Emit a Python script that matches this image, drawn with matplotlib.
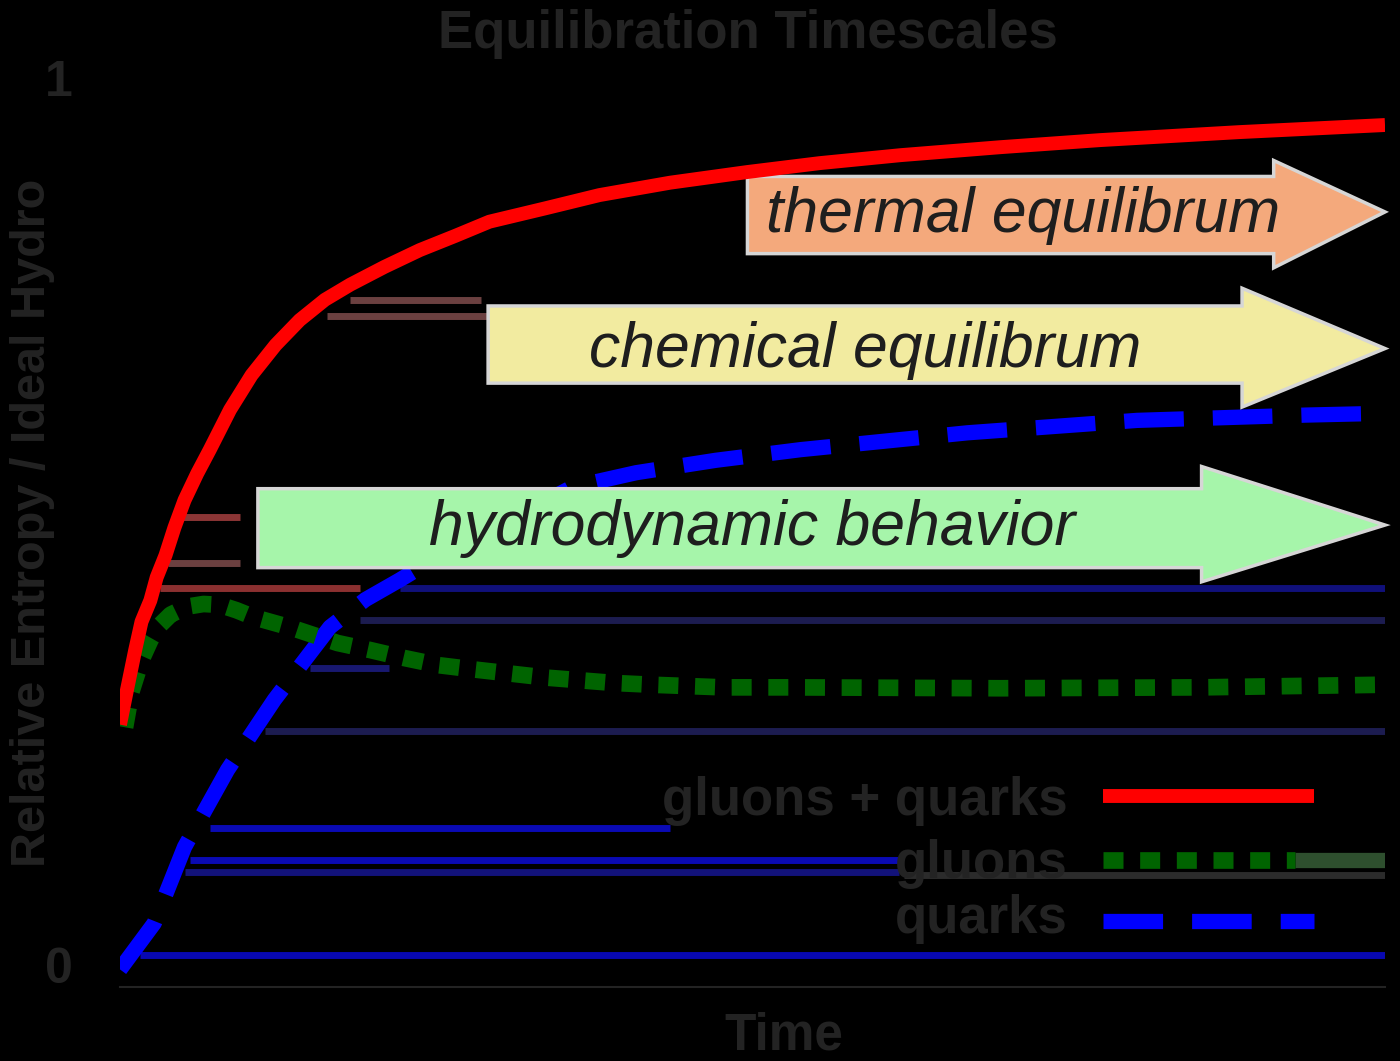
import matplotlib
matplotlib.use('Agg')
import matplotlib.pyplot as plt
from matplotlib.patches import Polygon

plt.rcParams['font.family'] = ['Liberation Sans', 'DejaVu Sans']

W, H = 1400, 1061
TEXT_C = '#232323'

# curves (time normalised to 0..1, value relative to 1)
t_all = [0.000, 0.0055, 0.012, 0.017, 0.024, 0.029, 0.036, 0.043, 0.051, 0.061,
         0.071, 0.087, 0.104, 0.123, 0.142, 0.162, 0.182, 0.209, 0.237, 0.265,
         0.292, 0.336, 0.379, 0.435, 0.496, 0.553, 0.617, 0.696, 0.775, 0.885, 1.000]
y_all = [0.271, 0.310, 0.355, 0.387, 0.411, 0.437, 0.462, 0.493, 0.524, 0.554,
         0.581, 0.626, 0.665, 0.699, 0.727, 0.750, 0.767, 0.787, 0.806, 0.822,
         0.838, 0.853, 0.868, 0.882, 0.894, 0.904, 0.913, 0.922, 0.930, 0.939, 0.947]

t_gluon = [0.004, 0.009, 0.017, 0.024, 0.030, 0.040, 0.053, 0.066, 0.079, 0.092,
           0.106, 0.136, 0.172, 0.198, 0.225, 0.252, 0.281, 0.337, 0.390, 0.420,
           0.477, 0.530, 0.696, 0.854, 1.000]
y_gluon = [0.268, 0.308, 0.344, 0.366, 0.381, 0.395, 0.404, 0.407, 0.406, 0.400,
           0.392, 0.380, 0.363, 0.355, 0.346, 0.338, 0.333, 0.324, 0.318, 0.316,
           0.313, 0.313, 0.312, 0.313, 0.316]

t_quark = [0.000, 0.027, 0.051, 0.085, 0.122, 0.166, 0.194, 0.221, 0.243, 0.300,
           0.358, 0.408, 0.471, 0.538, 0.670, 0.804, 0.938, 1.000]
y_quark = [-0.005, 0.047, 0.133, 0.220, 0.299, 0.381, 0.412, 0.434, 0.453, 0.496,
           0.539, 0.555, 0.569, 0.581, 0.600, 0.614, 0.620, 0.622]

# stray horizontal strokes visible in the picture
stray_y = [0.750, 0.732, 0.505, 0.453, 0.425, 0.425, 0.389, 0.335, 0.264,
           0.154, 0.118, 0.105, 0.011, 0.101]
stray_x0 = [0.182, 0.164, 0.047, 0.038, 0.032, 0.221, 0.190, 0.150, 0.115,
            0.071, 0.055, 0.051, 0.016, 0.620]
stray_x1 = [0.285, 0.291, 0.095, 0.095, 0.190, 1.000, 1.000, 0.213, 1.000,
            0.435, 0.616, 0.616, 1.000, 1.000]
stray_c = ['#6b4040', '#6b4040', '#8b3535', '#6b4040', '#8b3030', '#10107a',
           '#1c1c50', '#181870', '#1c1c50', '#0a0ab4', '#0a0ab4', '#12127a',
           '#0808b0', '#2b2b2b']

# regime arrows: label, colour, body x0, body y0/y1, head x, head y0/y1, tip y
arrow_labels = ['thermal equilibrum', 'chemical equilibrum', 'hydrodynamic behavior']
arrow_colors = ['#F4A97C', '#F2EBA0', '#A6F5AA']
arrow_x0 = [0.496, 0.291, 0.109]
arrow_by = [(0.802, 0.889), (0.656, 0.743), (0.448, 0.537)]
arrow_hx = [0.912, 0.887, 0.855]
arrow_hy = [(0.786, 0.907), (0.629, 0.763), (0.432, 0.562)]
arrow_tip = [0.849, 0.695, 0.496]
arrow_text_x = [0.714, 0.589, 0.500]
arrow_text_y = [0.826, 0.674, 0.473]

legend_labels = ['gluons + quarks', 'gluons', 'quarks']

RED = dict(color='#ff0000', lw=10, solid_capstyle='butt')
GREEN = dict(color='#006400', lw=12, dashes=(1.2, 1.0), dash_capstyle='butt')
BLUE = dict(color='#0000ff', lw=11, dashes=(3.9, 1.9), dash_capstyle='butt')


def fx(px):
    return px / W


def fy(py):
    return 1 - py / H


fig = plt.figure(figsize=(14, 10.61), dpi=100, facecolor='black')
ax = fig.add_axes([fx(120), fy(987), fx(1385) - fx(120), fy(78) - fy(987)])
ax.set_facecolor('black')
ax.set_xlim(0, 1)
ax.set_ylim(-0.0248, 1.0)

for y, a, b, c in zip(stray_y, stray_x0, stray_x1, stray_c):
    ax.plot([a, b], [y, y], color=c, lw=5, zorder=1, solid_capstyle='butt')
ax.plot([0.929, 1.0], [0.118, 0.118], color='#2e4f2e', lw=11, zorder=1,
        solid_capstyle='butt')

ax.plot(t_quark, y_quark, zorder=2, **BLUE)

for i in range(3):
    x0 = arrow_x0[i]
    b0, b1 = arrow_by[i]
    h0, h1 = arrow_hy[i]
    hx = arrow_hx[i]
    verts = [(x0, b0), (hx, b0), (hx, h0), (1.0, arrow_tip[i]),
             (hx, h1), (hx, b1), (x0, b1)]
    ax.add_patch(Polygon(verts, closed=True, fc=arrow_colors[i], ec='#d6d6d6',
                         lw=2.5, zorder=3, clip_on=False))
    ax.text(arrow_text_x[i], arrow_text_y[i], arrow_labels[i], fontsize=45,
            style='italic', color='#1e1e1e', ha='center', va='baseline', zorder=4)

ax.plot(t_gluon, y_gluon, zorder=5, **GREEN)
ax.plot(t_all, y_all, zorder=5, **RED)

# legend drawn by hand
leg_y = [0.190, 0.118, 0.0496]
leg_text_y = [0.169, 0.098, 0.036]
for i, style in enumerate([RED, GREEN, BLUE]):
    ax.plot([0.777, 0.944 if i != 1 else 0.929], [leg_y[i], leg_y[i]], zorder=6, **style)
    ax.text(0.749, leg_text_y[i], legend_labels[i], fontsize=38, fontweight='bold',
            color=TEXT_C, ha='right', va='baseline', zorder=6)

for s in ['top', 'right', 'left']:
    ax.spines[s].set_visible(False)
ax.spines['bottom'].set_color(TEXT_C)
ax.spines['bottom'].set_linewidth(1.5)
ax.set_xticks([])
ax.set_yticks([0, 1])
ax.set_yticklabels(['0', '1'], fontsize=36, fontweight='bold', color=TEXT_C)
ax.tick_params(axis='y', length=0, pad=34)

fig.text(fx(748), fy(48), 'Equilibration Timescales', fontsize=38, fontweight='bold',
         color=TEXT_C, ha='center', va='baseline')
fig.text(fx(784), fy(1050), 'Time', fontsize=37, fontweight='bold',
         color=TEXT_C, ha='center', va='baseline')
fig.text(fx(33), fy(523), 'Relative Entropy / Ideal Hydro', fontsize=35,
         fontweight='bold', color=TEXT_C, ha='center', va='center', rotation=90)

fig.savefig('out.png', dpi=100, facecolor='black')
